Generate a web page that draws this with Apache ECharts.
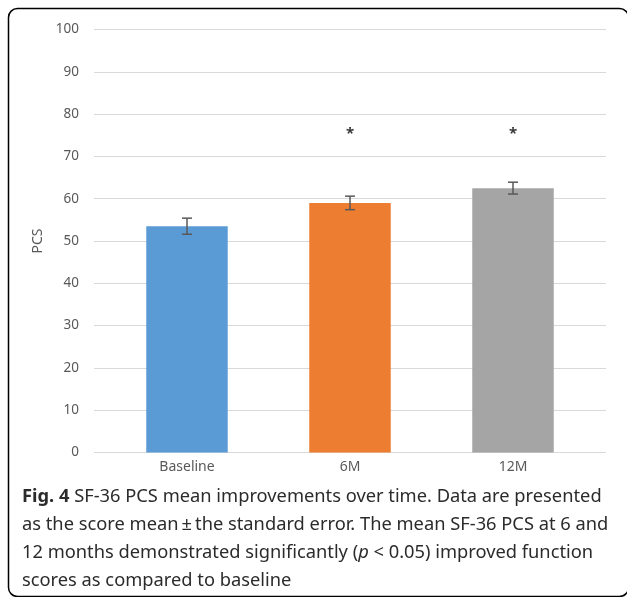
<!DOCTYPE html>
<html>
<head>
<meta charset="utf-8">
<script src="https://cdn.jsdelivr.net/npm/echarts@6/dist/echarts.min.js"></script>
<style>html,body{margin:0;padding:0;background:#fff;}#main{width:627px;height:597px;}</style>
</head>
<body>
<div id="main"></div>
<script>
const categories = ['Baseline', '6M', '12M'];
const means = [53.5, 59.0, 62.5];
const stdErrors = [1.9, 1.6, 1.4];
const significance = ['', '*', '*'];
const asteriskLevel = [75.3, 75.3, 75.3];
const yTicks = [0, 100, 10];
const barColors = ['#5B9BD5', '#ED7D31', '#A5A5A5'];
const captionLines = [
  '{b|Fig. 4} SF-36 PCS mean improvements over time. Data are presented',
  'as the score mean\u2009±\u2009the standard error. The mean SF-36 PCS at 6 and',
  '12 months demonstrated significantly ({i|p} < 0.05) improved function',
  'scores as compared to baseline'
];

const chart = echarts.init(document.getElementById('main'));
const font = 'Noto Sans';
const capSize = 18.3;
const capStyle = { fontFamily: font, fontSize: capSize, fill: '#2b2b2b' };
const graphics = [{
  type: 'rect', shape: { x: 8.5, y: 8.5, width: 620, height: 588, r: 9 },
  style: { fill: 'none', stroke: '#000', lineWidth: 1.5 }, silent: true
}];
captionLines.forEach((t, i) => {
  graphics.push({
    type: 'text', left: 22, top: 488 + i * 28,
    style: Object.assign({ text: t, rich: {
      b: { fontFamily: font, fontSize: capSize, fontWeight: 'bold', fill: '#2b2b2b' },
      i: { fontFamily: font, fontSize: capSize, fontStyle: 'italic', fill: '#2b2b2b' }
    } }, capStyle)
  });
});

chart.setOption({
  animation: false,
  grid: [
    { left: 94, right: 21, top: 29.5, bottom: 144.5 },
    { left: 105.5, right: 32.5, top: 29.5, bottom: 144.5 }
  ],
  xAxis: [
    { type: 'category', gridIndex: 0, data: categories, show: false },
    { type: 'category', gridIndex: 1, data: categories,
      axisLine: { show: false }, axisTick: { show: false },
      axisLabel: { fontFamily: font, fontSize: 14, color: '#595959', margin: 8 } }
  ],
  yAxis: [
    { type: 'value', gridIndex: 0, min: yTicks[0], max: yTicks[1], interval: yTicks[2],
      name: 'PCS', nameLocation: 'middle', nameGap: 44, nameRotate: 90,
      nameTextStyle: { fontFamily: font, fontSize: 14, color: '#595959' },
      axisLine: { show: false }, axisTick: { show: false },
      axisLabel: { fontFamily: font, fontSize: 13.5, color: '#595959', margin: 15 },
      splitLine: { lineStyle: { color: '#d9d9d9', width: 1 } } },
    { type: 'value', gridIndex: 1, min: yTicks[0], max: yTicks[1], interval: yTicks[2], show: false }
  ],
  series: [
    { type: 'bar', xAxisIndex: 1, yAxisIndex: 1, barWidth: '50%',
      data: means.map((v, i) => ({ value: v, itemStyle: { color: barColors[i] } })) },
    { type: 'custom', xAxisIndex: 1, yAxisIndex: 1, z: 5,
      data: means.map((m, i) => [i, m - stdErrors[i], m + stdErrors[i]]),
      renderItem: function (params, api) {
        const lo = api.coord([api.value(0), api.value(1)]);
        const hi = api.coord([api.value(0), api.value(2)]);
        const hw = 5;
        const st = { stroke: '#595959', lineWidth: 1.5 };
        return { type: 'group', children: [
          { type: 'line', shape: { x1: hi[0], y1: hi[1], x2: lo[0], y2: lo[1] }, style: st },
          { type: 'line', shape: { x1: hi[0] - hw, y1: hi[1], x2: hi[0] + hw, y2: hi[1] }, style: st },
          { type: 'line', shape: { x1: lo[0] - hw, y1: lo[1], x2: lo[0] + hw, y2: lo[1] }, style: st }
        ] };
      } },
    { type: 'scatter', xAxisIndex: 1, yAxisIndex: 1, symbolSize: 0,
      data: significance.map((s, i) => s ? [i, asteriskLevel[i], s] : null).filter(Boolean),
      label: { show: true, position: 'inside', formatter: p => p.value[2],
        fontFamily: font, fontSize: 15, fontWeight: 'bold', color: '#000' } }
  ],
  graphic: graphics
});
</script>
</body>
</html>
